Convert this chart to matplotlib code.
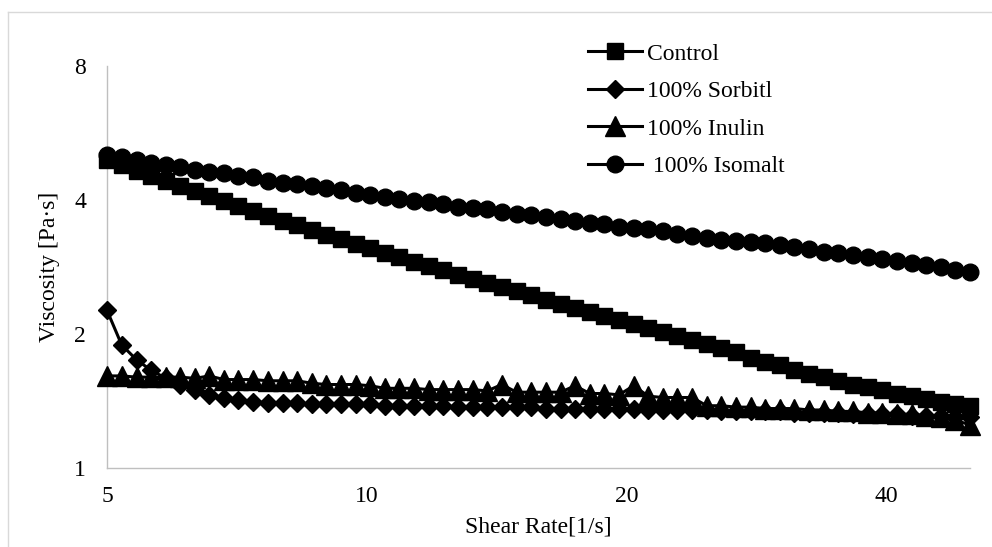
import matplotlib
matplotlib.use("Agg")
import matplotlib.pyplot as plt
from matplotlib.lines import Line2D
from matplotlib.ticker import FixedLocator, NullLocator

plt.rcParams["font.family"] = ["Liberation Serif", "DejaVu Serif"]

shear_rate = [5.00, 5.20, 5.41, 5.62, 5.85, 6.08, 6.32, 6.57, 6.83, 7.10,
              7.39, 7.68, 7.99, 8.30, 8.64, 8.98, 9.34, 9.71, 10.09, 10.50,
              10.91, 11.35, 11.80, 12.27, 12.76, 13.27, 13.79, 14.34, 14.91, 15.51,
              16.12, 16.77, 17.43, 18.13, 18.85, 19.60, 20.38, 21.19, 22.03, 22.91,
              23.82, 24.77, 25.76, 26.78, 27.85, 28.95, 30.11, 31.30, 32.55, 33.85,
              35.19, 36.59, 38.05, 39.56, 41.14, 42.78, 44.48, 46.25, 48.09, 50.00]

control = [4.92, 4.79, 4.65, 4.53, 4.41, 4.30, 4.19, 4.08, 3.98, 3.88,
           3.78, 3.68, 3.59, 3.52, 3.43, 3.34, 3.27, 3.19, 3.12, 3.04,
           2.98, 2.90, 2.84, 2.79, 2.71, 2.66, 2.60, 2.55, 2.50, 2.45,
           2.39, 2.34, 2.29, 2.24, 2.20, 2.15, 2.11, 2.06, 2.02, 1.98,
           1.94, 1.90, 1.86, 1.82, 1.77, 1.73, 1.70, 1.66, 1.63, 1.60,
           1.57, 1.54, 1.52, 1.50, 1.47, 1.45, 1.43, 1.41, 1.39, 1.38]

sorbitol = [2.26, 1.89, 1.75, 1.66, 1.59, 1.54, 1.50, 1.46, 1.44, 1.42,
            1.41, 1.40, 1.40, 1.40, 1.39, 1.39, 1.39, 1.39, 1.39, 1.38,
            1.38, 1.38, 1.38, 1.38, 1.37, 1.37, 1.37, 1.37, 1.37, 1.37,
            1.36, 1.36, 1.36, 1.36, 1.36, 1.36, 1.36, 1.35, 1.35, 1.35,
            1.35, 1.35, 1.34, 1.34, 1.34, 1.34, 1.34, 1.33, 1.33, 1.33,
            1.33, 1.32, 1.32, 1.32, 1.32, 1.31, 1.31, 1.31, 1.30, 1.30]

inulin = [1.61, 1.61, 1.60, 1.60, 1.60, 1.60, 1.59, 1.61, 1.58, 1.58,
          1.58, 1.57, 1.57, 1.57, 1.55, 1.54, 1.54, 1.54, 1.53, 1.51,
          1.51, 1.51, 1.50, 1.50, 1.50, 1.50, 1.49, 1.54, 1.48, 1.48,
          1.48, 1.48, 1.53, 1.47, 1.47, 1.46, 1.53, 1.45, 1.44, 1.44,
          1.44, 1.38, 1.38, 1.37, 1.37, 1.36, 1.36, 1.36, 1.35, 1.35,
          1.34, 1.34, 1.33, 1.33, 1.32, 1.32, 1.31, 1.30, 1.28, 1.25]

isomalt = [5.05, 5.00, 4.92, 4.84, 4.79, 4.75, 4.67, 4.62, 4.60, 4.53,
           4.51, 4.41, 4.37, 4.35, 4.30, 4.26, 4.21, 4.15, 4.10, 4.06,
           4.02, 3.98, 3.96, 3.92, 3.86, 3.84, 3.82, 3.76, 3.72, 3.70,
           3.66, 3.63, 3.59, 3.55, 3.53, 3.48, 3.46, 3.44, 3.40, 3.36,
           3.32, 3.29, 3.26, 3.24, 3.22, 3.20, 3.17, 3.14, 3.10, 3.06,
           3.04, 3.01, 2.98, 2.95, 2.92, 2.89, 2.86, 2.83, 2.79, 2.76]

labels = ["Control", "100% Sorbitl", "100% Inulin", " 100% Isomalt"]
x_ticks = [5, 10, 20, 40]
y_ticks = [1, 2, 4, 8]

W, H = 992, 547
fig = plt.figure(figsize=(W / 100, H / 100), dpi=100)
ax = fig.add_axes([107 / W, 1 - 468 / H, (970 - 107) / W, (468 - 66) / H])

# outer chart border (Excel chart area), cropped at right/bottom
fig.add_artist(Line2D([8 / W, 8 / W], [0, 1 - 12 / H], transform=fig.transFigure,
                      color="#d9d9d9", lw=1))
fig.add_artist(Line2D([8 / W, 1], [1 - 12 / H, 1 - 12 / H], transform=fig.transFigure,
                      color="#d9d9d9", lw=1))

series = [(control, "s", 11.5), (sorbitol, "D", 9), (inulin, "^", 14), (isomalt, "o", 12)]
for k, (vals, mk, ms) in enumerate(series):
    ax.plot(shear_rate, vals, color="black", lw=2.2, marker=mk, markersize=ms,
            markerfacecolor="black", markeredgecolor="black", label=labels[k],
            clip_on=False, zorder=3 + k)

ax.set_xscale("log", base=2)
ax.set_yscale("log", base=2)
ax.set_xlim(5, 50)
ax.set_ylim(1, 8)

ax.xaxis.set_major_locator(FixedLocator(x_ticks))
ax.xaxis.set_minor_locator(NullLocator())
ax.set_xticklabels([str(t) for t in x_ticks])
ax.yaxis.set_major_locator(FixedLocator(y_ticks))
ax.yaxis.set_minor_locator(NullLocator())
ax.set_yticklabels([str(t) for t in y_ticks])

ax.tick_params(axis="both", length=0, labelsize=17)
ax.tick_params(axis="x", pad=13)
ax.tick_params(axis="y", pad=15)

for s in ["top", "right"]:
    ax.spines[s].set_visible(False)
for s in ["left", "bottom"]:
    ax.spines[s].set_color("#bfbfbf")
    ax.spines[s].set_linewidth(1)

ax.set_xlabel("Shear Rate[1/s]", fontsize=17)
ax.set_ylabel("Viscosity [Pa·s]", fontsize=17)
ax.xaxis.set_label_coords(0.5, -0.12)
ax.yaxis.set_label_coords(-0.054, 0.5)

leg = ax.legend(loc="upper left", bbox_to_anchor=(588 / W, 1 - 43 / H),
                bbox_transform=fig.transFigure, frameon=False, fontsize=17,
                handlelength=2.3, handletextpad=0.2, labelspacing=0.68,
                borderpad=0, borderaxespad=0)

fig.savefig("out.png", dpi=100)
